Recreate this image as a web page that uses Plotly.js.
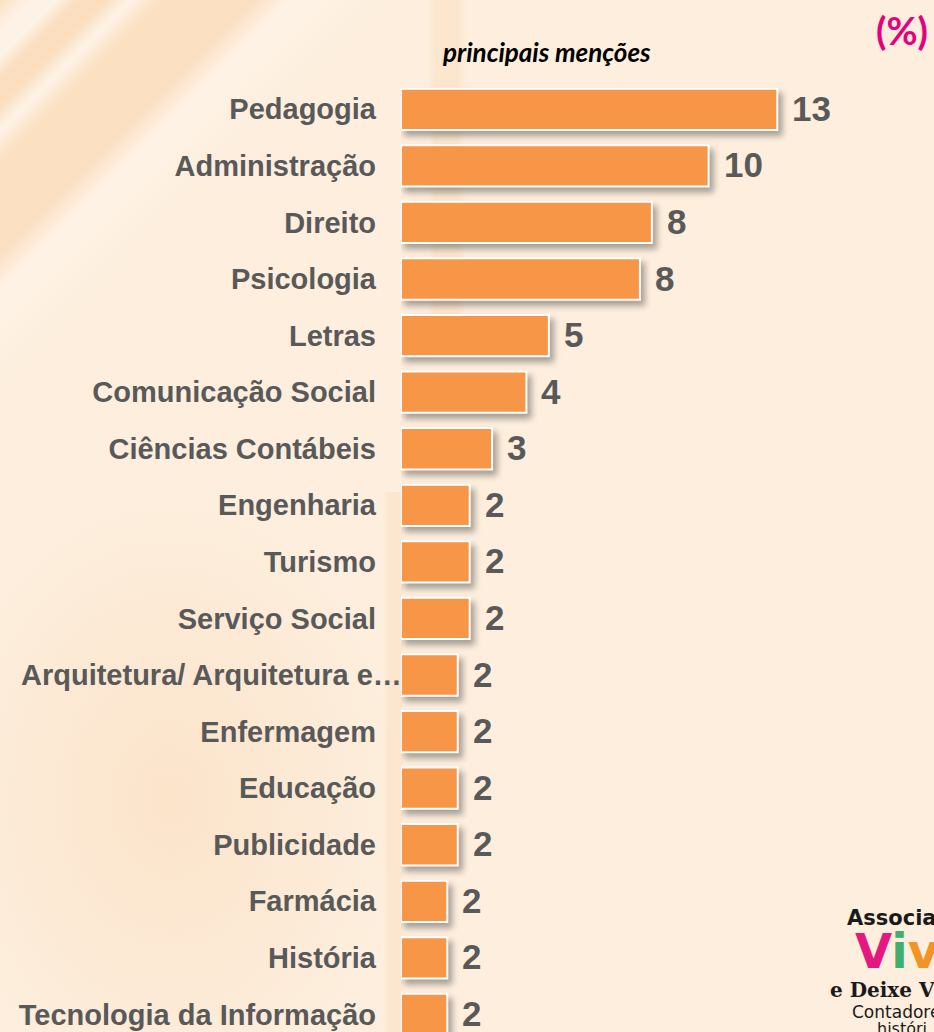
<!DOCTYPE html>
<html>
<head>
<meta charset="utf-8">
<script src="https://cdn.plot.ly/plotly-3.0.1.min.js"></script>
<style>
  html, body { margin: 0; padding: 0; }
  #chart {
    width: 934px; height: 1032px;
    background-color: #FDEEDD;
    background-image:
      linear-gradient(90deg, rgba(0,0,0,0) 428px, rgba(248,208,166,0.28) 436px, rgba(248,208,166,0.28) 458px, rgba(0,0,0,0) 466px),
      linear-gradient(90deg, rgba(0,0,0,0) 383px, rgba(248,208,166,0.28) 389px, rgba(248,208,166,0.28) 400px, rgba(0,0,0,0) 404px),
      linear-gradient(135deg, rgba(249,212,172,0.55) 0px, rgba(255,246,236,0.6) 22px, rgba(255,246,236,0.6) 40px, rgba(249,212,172,0.6) 55px, rgba(249,212,172,0.6) 75px, rgba(255,246,236,0.6) 92px, rgba(249,212,172,0.55) 115px, rgba(249,212,172,0.55) 180px, rgba(255,246,236,0.55) 205px, rgba(255,246,236,0.4) 230px, rgba(253,238,221,0) 280px),
      radial-gradient(ellipse 230px 300px at 170px 800px, rgba(249,215,178,0.45), rgba(253,238,221,0));
    background-repeat: no-repeat;
    background-size: 934px 320px, 934px 540px, 934px 1032px, 934px 1032px;
    background-position: 0 0, 0 492px, 0 0, 0 0;
  }
  .js-plotly-plot .bars .point path { filter: drop-shadow(4px 5px 3px rgba(60,60,60,0.45)); }
</style>
</head>
<body>
<div id="chart"></div>
<script>
// ---- data ----
const categories = [
  "Pedagogia", "Administração", "Direito", "Psicologia", "Letras",
  "Comunicação Social", "Ciências Contábeis", "Engenharia", "Turismo",
  "Serviço Social", "Arquitetura/ Arquitetura e…", "Enfermagem", "Educação",
  "Publicidade", "Farmácia", "História", "Tecnologia da Informação"
];
const values = [12.6, 10.3, 8.4, 8.0, 4.95, 4.2, 3.05, 2.3, 2.3, 2.3, 1.9, 1.9, 1.9, 1.9, 1.55, 1.55, 1.55];
const valueLabels = ["13", "10", "8", "8", "5", "4", "3", "2", "2", "2", "2", "2", "2", "2", "2", "2", "2"];
const chartSubtitle = "principais menções";
const unitLabel = "(%)";
const longLabelIndex = 10;
// logo text as visible in the (cropped) reference
const logoLines = ["Associa", "Viv", "e Deixe V", "Contadore", "históri"];

// ---- layout helpers ----
const W = 934, H = 1032;
const M = { l: 401, r: 85, t: 81, b: 0 };
const PW = W - M.l - M.r, PH = H - M.t - M.b;
const px = v => (v - M.l) / PW;
const py = v => 1 - (v - M.t) / PH;

const gray = "#595959";
const labelFont = { family: "Liberation Sans, Arial, sans-serif", size: 29, color: gray, weight: "bold" };

const tickText = categories.map((c, i) => i === longLabelIndex ? "" : c);

const trace = {
  type: "bar",
  orientation: "h",
  x: values,
  y: categories,
  marker: { color: "#F79646", line: { color: "#FFFFFF", width: 2 } },
  hoverinfo: "skip"
};

const annotations = [];
values.forEach((v, i) => {
  annotations.push({
    x: v, y: categories[i], xref: "x", yref: "y",
    text: valueLabels[i], showarrow: false,
    xanchor: "left", yanchor: "middle", xshift: 13, yshift: 1,
    font: { family: "Liberation Sans, Arial, sans-serif", size: 35, color: gray, weight: "bold" }
  });
});
annotations.push({
  x: 0, y: categories[longLabelIndex], xref: "paper", yref: "y",
  text: categories[longLabelIndex], showarrow: false,
  xanchor: "right", yanchor: "middle", xshift: 3,
  font: labelFont
});
annotations.push({
  x: px(546), y: py(52), xref: "paper", yref: "paper",
  text: chartSubtitle, showarrow: false, xanchor: "center", yanchor: "middle",
  font: { family: "Lato, Open Sans, sans-serif", size: 26, color: "#000000", weight: "bold", style: "italic" }
});
annotations.push({
  x: px(874), y: py(30), xref: "paper", yref: "paper",
  text: unitLabel, showarrow: false, xanchor: "left", yanchor: "middle",
  font: { family: "Lato, Open Sans, sans-serif", size: 38, color: "#E5007D", weight: "bold" }
});
// logo (cropped at the right edge in the reference)
const ink = "#1a1a1a";
annotations.push({ x: px(845), y: py(918), xref: "paper", yref: "paper", text: logoLines[0], showarrow: false,
  xanchor: "left", yanchor: "middle", font: { family: "DejaVu Sans, sans-serif", size: 21, color: ink, weight: "bold" } });
annotations.push({ x: px(853), y: py(951), xref: "paper", yref: "paper",
  text: "<span style='color:#E4197F'>" + logoLines[1][0] + "</span><span style='color:#3FAE6E'>" + logoLines[1][1] +
        "</span><span style='color:#F39325'>" + logoLines[1][2] + "</span>",
  showarrow: false, xanchor: "left", yanchor: "middle", font: { family: "DejaVu Sans, sans-serif", size: 48, color: "#E4197F", weight: "bold" } });
annotations.push({ x: px(828), y: py(990), xref: "paper", yref: "paper", text: logoLines[2], showarrow: false,
  xanchor: "left", yanchor: "middle", font: { family: "DejaVu Serif, serif", size: 20, color: ink, weight: "bold" } });
annotations.push({ x: px(850), y: py(1012), xref: "paper", yref: "paper", text: logoLines[3], showarrow: false,
  xanchor: "left", yanchor: "middle", font: { family: "DejaVu Sans, sans-serif", size: 17, color: ink } });
annotations.push({ x: px(875), y: py(1028), xref: "paper", yref: "paper", text: logoLines[4], showarrow: false,
  xanchor: "left", yanchor: "middle", font: { family: "DejaVu Sans, sans-serif", size: 16, color: ink } });

const layout = {
  width: W, height: H,
  margin: M,
  paper_bgcolor: "rgba(0,0,0,0)",
  plot_bgcolor: "rgba(0,0,0,0)",
  showlegend: false,
  bargap: 0.27,
  xaxis: { range: [0, 15], visible: false, fixedrange: true },
  yaxis: {
    range: [16.31, -0.5],
    type: "category",
    tickmode: "array", tickvals: categories, ticktext: tickText,
    showgrid: false, zeroline: false, showline: false,
    ticks: "", ticklabelstandoff: 24,
    tickfont: labelFont, automargin: false, fixedrange: true
  },
  annotations: annotations
};

Plotly.newPlot("chart", [trace], layout, { displayModeBar: false, staticPlot: true });
</script>
</body>
</html>
